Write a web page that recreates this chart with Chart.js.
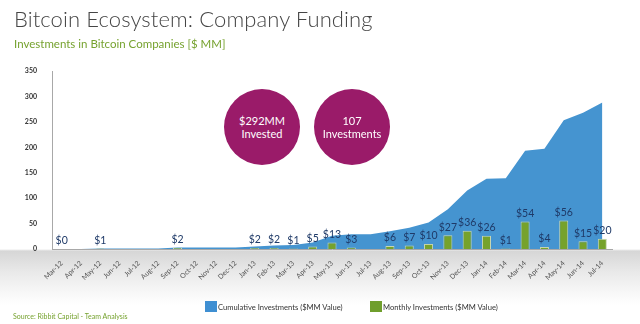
<!DOCTYPE html>
<html>
<head>
<meta charset="utf-8">
<script src="https://cdn.jsdelivr.net/npm/chart.js@4.4.1/dist/chart.umd.min.js"></script>
<style>
  html, body { margin: 0; padding: 0; }
  body {
    width: 640px; height: 324px; position: relative; overflow: hidden;
    background: linear-gradient(to bottom, #ffffff 0px, #ffffff 249px, #d6d6d6 251px, #e9e9e9 272px, #f7f7f7 292px, #ffffff 305px);
    font-family: Lato, "Open Sans", sans-serif;
  }
  #wrap { position: absolute; left: 0; top: 0; width: 640px; height: 324px; }
  .title { position: absolute; left: 14px; top: 5px; font-size: 22px; color: #454545; font-weight: 300; letter-spacing: 0.1px; white-space: nowrap; }
  .sub { position: absolute; left: 14px; top: 37px; font-size: 11.5px; color: #76a22f; white-space: nowrap; }
  .circle { position: absolute; width: 76px; height: 76px; border-radius: 50%; background: #9a1b69; color: #fff;
            display: flex; flex-direction: column; align-items: center; justify-content: center; font-size: 11px; line-height: 13px; text-align: center; }
  .legend { position: absolute; top: 301px; font-size: 7.6px; color: #333; white-space: nowrap; display: flex; align-items: center; }
  .sw { display: inline-block; width: 12px; height: 11px; margin-right: 1px; }
  .src { position: absolute; left: 13px; top: 312px; font-size: 7px; color: #76a22f; white-space: nowrap; }
</style>
</head>
<body>
<div id="wrap"><canvas id="c" width="640" height="324"></canvas></div>
<div class="title">Bitcoin Ecosystem: Company Funding</div>
<div class="sub">Investments in Bitcoin Companies [$ MM]</div>
<div class="circle" style="left:224px; top:89px;"><div>$292MM</div><div>Invested</div></div>
<div class="circle" style="left:314px; top:89px;"><div>107</div><div>Investments</div></div>
<div class="legend" style="left:205px;"><span class="sw" style="background:#3f8fd2"></span>Cumulative Investments ($MM Value)</div>
<div class="legend" style="left:370px;"><span class="sw" style="background:#6f9e2c"></span>Monthly Investments ($MM Value)</div>
<div class="src">Source: Ribbit Capital - Team Analysis</div>
<script>
const months = ["Mar-12","Apr-12","May-12","Jun-12","Jul-12","Aug-12","Sep-12","Oct-12","Nov-12","Dec-12",
  "Jan-13","Feb-13","Mar-13","Apr-13","May-13","Jun-13","Jul-13","Aug-13","Sep-13","Oct-13","Nov-13","Dec-13",
  "Jan-14","Feb-14","Mar-14","Apr-14","May-14","Jun-14","Jul-14"];
const monthly = [0,null,1,null,null,null,2,null,null,null,
  2,2,1,5,13,3,null,6,7,10,27,36,
  26,1,54,4,56,15,20];
const cumulative = [0,0,1,1,1,1,3,3,3,3,
  5,7,8,13,26,29,29,35,42,52,78,115,
  138,139,193,197,253,268,288];
const yTicks = [0,50,100,150,200,250,300,350];

const labelPlugin = {
  id: 'barLabels',
  afterDatasetsDraw(chart) {
    const ctx = chart.ctx;
    const meta = chart.getDatasetMeta(0);
    ctx.save();
    ctx.font = '10.5px Lato, "Open Sans", sans-serif';
    ctx.fillStyle = '#1f3a68';
    ctx.textAlign = 'center';
    ctx.textBaseline = 'middle';
    meta.data.forEach((el, i) => {
      const v = monthly[i];
      if (v === null || v === undefined) return;
      ctx.fillText('$' + v, el.x, el.y - 8);
    });
    ctx.restore();
  }
};

new Chart(document.getElementById('c'), {
  type: 'bar',
  data: {
    labels: months,
    datasets: [
      {
        type: 'bar',
        label: 'Monthly Investments ($MM Value)',
        data: monthly,
        backgroundColor: '#76a22c',
        borderColor: '#c9d6b0',
        borderWidth: 1,
        barPercentage: 0.55,
        categoryPercentage: 0.85
      },
      {
        type: 'line',
        label: 'Cumulative Investments ($MM Value)',
        data: cumulative,
        backgroundColor: '#4594d0',
        borderWidth: 0,
        borderColor: 'rgba(0,0,0,0)',
        pointRadius: 0,
        tension: 0,
        fill: 'origin'
      }
    ]
  },
  options: {
    responsive: false,
    animation: false,
    devicePixelRatio: 1,
    layout: { padding: { left: 0, top: 71, right: 28, bottom: 0 } },
    plugins: { legend: { display: false }, tooltip: { enabled: false } },
    scales: {
      x: {
        grid: { display: false },
        border: { display: true, color: '#a8a8a8', width: 1 },
        ticks: {
          autoSkip: false, maxRotation: 45, minRotation: 45,
          font: { size: 7, family: 'Lato, "Open Sans", sans-serif' }, color: '#555', padding: 2
        },
        afterFit(s) { s.height = 75; }
      },
      y: {
        min: 0, max: 350,
        grid: { display: false },
        border: { display: true, color: '#a8a8a8', width: 1 },
        afterBuildTicks(s) { s.ticks = yTicks.map(v => ({ value: v })); },
        ticks: { font: { size: 7, family: 'Lato, "Open Sans", sans-serif', weight: 'bold' }, color: '#333', padding: 7 },
        afterFit(s) { s.width = 52; }
      }
    }
  },
  plugins: [labelPlugin]
});
</script>
</body>
</html>
